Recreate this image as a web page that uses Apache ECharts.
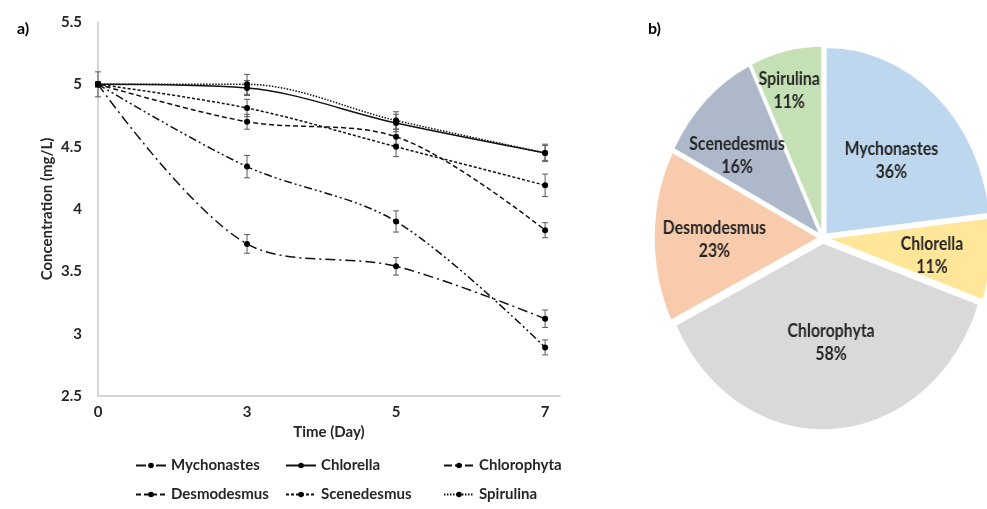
<!DOCTYPE html>
<html>
<head>
<meta charset="utf-8">
<script src="https://cdn.jsdelivr.net/npm/echarts@6/dist/echarts.min.js"></script>
<style>
  html, body { margin: 0; padding: 0; background: #fff; overflow: hidden; }
  #wrap { position: relative; width: 987px; height: 509px; overflow: hidden; }
  #chart { position: absolute; left: 0; top: 0; width: 987px; height: 509px; }
  /* the pie in the source figure is stretched a bit taller than wide */
  #pie { position: absolute; left: 0; top: 0; width: 1120px; height: 509px;
         transform: scaleX(0.88); transform-origin: 823px 0; }
</style>
</head>
<body>
<div id="wrap">
  <div id="chart"></div>
  <div id="pie"></div>
</div>
<script>
// time axis (categories) and tick labels
const days = ['0', '3', '5', '7'];
const yTicks = [2.5, 3, 3.5, 4, 4.5, 5, 5.5];

// concentration (mg/L) per strain
const mychonastes = [5.0, 3.72, 3.54, 3.12];
const chlorella   = [5.0, 4.97, 4.69, 4.45];
const chlorophyta = [5.0, 4.34, 3.90, 2.89];
const desmodesmus = [5.0, 4.70, 4.58, 3.83];
const scenedesmus = [5.0, 4.81, 4.50, 4.19];
const spirulina   = [5.0, 5.00, 4.71, 4.45];

// error bar half-heights
const errMychonastes = [0.02, 0.075, 0.07, 0.07];
const errChlorella   = [0.02, 0.06, 0.07, 0.07];
const errChlorophyta = [0.02, 0.09, 0.085, 0.06];
const errDesmodesmus = [0.02, 0.06, 0.06, 0.06];
const errScenedesmus = [0.02, 0.07, 0.08, 0.09];
const errSpirulina   = [0.10, 0.08, 0.07, 0.06];

// pie (panel b)
const pieNames  = ['Mychonastes', 'Chlorella', 'Chlorophyta', 'Desmodesmus', 'Scenedesmus', 'Spirulina'];
const pieValues = [36, 11, 58, 23, 16, 11];
const pieColors = ['#BDD7EE', '#FFE699', '#D9D9D9', '#F8CBAD', '#ADB9CA', '#C5E0B4'];

const FONT = 'Lato';
const TXT = '#262626';

const lines = [
  { name: 'Mychonastes', vals: mychonastes, err: errMychonastes, dash: [10, 4, 2, 4] },
  { name: 'Chlorella',   vals: chlorella,   err: errChlorella,   dash: 'solid' },
  { name: 'Chlorophyta', vals: chlorophyta, err: errChlorophyta, dash: [8, 3, 2, 3, 2, 3] },
  { name: 'Desmodesmus', vals: desmodesmus, err: errDesmodesmus, dash: [5, 3] },
  { name: 'Scenedesmus', vals: scenedesmus, err: errScenedesmus, dash: [3, 2] },
  { name: 'Spirulina',   vals: spirulina,   err: errSpirulina,   dash: [1.5, 1.5] }
];

// nudges for the pie labels (Excel "best fit" placement)
const pieLabelShift = [[10, -2], [23, 6], [3, 3], [-22, 3], [-27, -9], [-16, -48]];

const errorBars = (l) => ({
  type: 'custom',
  name: l.name + ' err',
  silent: true,
  z: 1,
  data: l.vals.map((v, i) => [i, v, l.err[i]]),
  renderItem: (params, api) => {
    const x = api.value(0), y = api.value(1), e = api.value(2);
    const hi = api.coord([x, y + e]);
    const lo = api.coord([x, y - e]);
    const w = 3;
    const style = { stroke: '#595959', lineWidth: 1 };
    return {
      type: 'group',
      children: [
        { type: 'line', shape: { x1: hi[0], y1: hi[1], x2: lo[0], y2: lo[1] }, style },
        { type: 'line', shape: { x1: hi[0] - w, y1: hi[1], x2: hi[0] + w, y2: hi[1] }, style },
        { type: 'line', shape: { x1: lo[0] - w, y1: lo[1], x2: lo[0] + w, y2: lo[1] }, style }
      ]
    };
  }
});

const lineSeries = lines.map(l => ({
  type: 'line',
  name: l.name,
  data: l.vals.map((v, i) => [i, v]),
  smooth: 0.33,
  symbol: 'circle',
  symbolSize: 6,
  z: 3,
  itemStyle: { color: '#000' },
  lineStyle: { color: '#111', width: 1.5, type: l.dash }
}));

const legendStyle = {
  orient: 'vertical',
  top: 458,
  padding: 0,
  itemWidth: 30,
  itemHeight: 7,
  itemGap: 14,
  textStyle: { fontFamily: FONT, fontSize: 15, lineHeight: 15, fontWeight: 'bold', color: TXT }
};

const chart = echarts.init(document.getElementById('chart'));

chart.setOption({
  backgroundColor: 'transparent',
  animation: false,
  title: [
    { text: 'a)', left: 12, top: 16, textStyle: { fontFamily: FONT, fontSize: 16, fontWeight: 'bold', color: '#000' } },
    { text: 'b)', left: 643, top: 16, textStyle: { fontFamily: FONT, fontSize: 16, fontWeight: 'bold', color: '#000' } }
  ],
  legend: [
    Object.assign({ left: 135, data: ['Mychonastes', 'Desmodesmus'] }, legendStyle),
    Object.assign({ left: 285, data: ['Chlorella', 'Scenedesmus'] }, legendStyle),
    Object.assign({ left: 443, data: ['Chlorophyta', 'Spirulina'] }, legendStyle)
  ],
  grid: { left: 98, top: 22, right: 427, bottom: 113 },
  xAxis: {
    type: 'value',
    min: 0,
    max: 3.1,
    interval: 1,
    name: 'Time (Day)',
    nameLocation: 'middle',
    nameGap: 21,
    nameTextStyle: { fontFamily: FONT, fontSize: 15, fontWeight: 'bold', color: TXT },
    splitLine: { show: false },
    axisTick: { show: false },
    axisLine: { lineStyle: { color: '#c8c8c8', width: 1.5 } },
    axisLabel: {
      fontFamily: FONT, fontSize: 15, fontWeight: 'bold', color: TXT, margin: 9,
      showMaxLabel: false,
      formatter: v => (Number.isInteger(v) && days[v] !== undefined ? days[v] : '')
    }
  },
  yAxis: {
    type: 'value',
    min: yTicks[0],
    max: yTicks[yTicks.length - 1],
    interval: 0.5,
    name: 'Concentration (mg/L)',
    nameLocation: 'middle',
    nameGap: 43,
    nameTextStyle: { fontFamily: FONT, fontSize: 15, fontWeight: 'bold', color: TXT },
    splitLine: { show: false },
    axisTick: { show: false },
    axisLine: { show: true, lineStyle: { color: '#c8c8c8', width: 1.5 } },
    axisLabel: { fontFamily: FONT, fontSize: 15, fontWeight: 'bold', color: TXT, margin: 16 }
  },
  series: [
    ...lines.map(errorBars),
    ...lineSeries
  ]
});

const pie = echarts.init(document.getElementById('pie'));

pie.setOption({
  backgroundColor: 'transparent',
  animation: false,
  series: [{
    type: 'pie',
    name: 'share',
    center: [823, 238],
    radius: 187,
    startAngle: 90,
    clockwise: true,
    selectedMode: 'multiple',
    selectedOffset: 5,
    itemStyle: { borderColor: '#fff', borderWidth: 1.5 },
    label: {
      show: true,
      position: 'inside',
      formatter: '{b}\n{c}%',
      fontFamily: FONT,
      fontSize: 18,
      fontWeight: 'bold',
      lineHeight: 23,
      color: TXT
    },
    labelLine: { show: false },
    labelLayout: (params) => ({
      dx: pieLabelShift[params.dataIndex][0],
      dy: pieLabelShift[params.dataIndex][1],
      hideOverlap: false
    }),
    emphasis: { disabled: true },
    data: pieNames.map((n, i) => ({
      name: n,
      value: pieValues[i],
      selected: true,
      itemStyle: { color: pieColors[i] }
    }))
  }]
});
</script>
</body>
</html>
